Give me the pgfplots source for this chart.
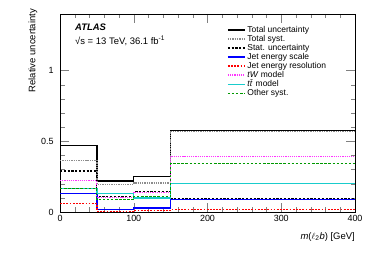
\documentclass[border=0pt]{standalone}
\usepackage{pgfplots}
\pgfplotsset{compat=1.18}
\usepackage{fontspec}
\setmainfont{Liberation Sans}
\definecolor{rootgreen}{rgb}{0,0.6,0}
\definecolor{rootcyan}{rgb}{0.1,0.8,0.8}
\definecolor{rootmag}{rgb}{1,0.2,1}
\definecolor{rootblue}{rgb}{0,0,1}
\definecolor{rootred}{rgb}{1,0,0}
\definecolor{rootgray}{rgb}{0.55,0.55,0.55}
\begin{document}
\begin{tikzpicture}
\begin{axis}[
  scale only axis,
  width=295bp, height=198bp,
  xmin=0, xmax=400, ymin=0, ymax=1.4,
  xtick={0,100,200,300,400},
  ytick={0,0.5,1},
  yticklabels={0,0.5,1},
  minor x tick num=4,
  minor y tick num=4,
  tick align=inside,
  major tick length=9bp,
  minor tick length=4.5bp,
  axis line style={line width=0.7pt},
  /pgf/number format/assume math mode=true,
  ticklabel style={font=\fontsize{9}{10}\selectfont},
  yticklabel style={xshift=-3pt},
  xlabel={\textit{m}($\ell$\textsubscript{2}\textit{b}) [GeV]},
  xlabel style={at={(axis description cs:1,-0.126)}, anchor=east, font=\fontsize{9.5}{11}\selectfont, inner sep=0pt},
  legend cell align=left,
  legend style={draw=none, fill=none, at={(axis description cs:0.566,0.95)}, anchor=north west,
     inner sep=0pt, font=\fontsize{8.5}{9}\selectfont, row sep=-2.6pt},
]
\addplot[const plot, color=black, line width=1.3pt] coordinates {(0,0.47) (50,0.22) (100,0.25) (150,0.578) (400,0.578)};
\addlegendentry{Total uncertainty}
\addplot[const plot, color=rootgray, densely dotted, line width=1.3pt] coordinates {(0,0.366) (50,0.195) (100,0.205) (150,0.571) (400,0.571)};
\addlegendentry{Total syst.}
\addplot[const plot, color=black, dash pattern=on 2.2pt off 1.6pt, line width=1.1pt] coordinates {(0,0.29) (50,0.108) (100,0.143) (150,0.096) (400,0.096)};
\addlegendentry{Stat. uncertainty}
\addplot[const plot, color=rootblue, line width=1.3pt] coordinates {(0,0.13) (50,0.02) (100,0.028) (150,0.09) (400,0.09)};
\addlegendentry{Jet energy scale}
\addplot[const plot, color=rootred, dash pattern=on 1.8pt off 1.4pt, line width=1.3pt] coordinates {(0,0.06) (50,0.006) (100,0.012) (150,0.019) (400,0.019)};
\addlegendentry{Jet energy resolution}
\addplot[const plot, color=rootmag, densely dotted, line width=1.2pt] coordinates {(0,0.22) (50,0.104) (100,0.14) (150,0.394) (400,0.394)};
\addlegendentry{\textit{tW} model\vphantom{gy}}
\addplot[const plot, color=rootcyan, line width=1.3pt] coordinates {(0,0.168) (50,0.13) (100,0.098) (150,0.202) (400,0.202)};
\addlegendentry{\textit{t\={t}} model\vphantom{gy}}
\addplot[const plot, color=rootgreen, dash pattern=on 2.5pt off 1.6pt, line width=1.1pt] coordinates {(0,0.163) (50,0.09) (100,0.108) (150,0.343) (400,0.343)};
\addlegendentry{Other syst.}
\end{axis}
\node[rotate=90, anchor=east, inner sep=0pt, font=\fontsize{9.5}{11}\selectfont] at ([shift={(-27bp,5bp)}]current axis.north west) {Relative uncertainty};
\node[anchor=west, inner sep=0pt, font=\fontsize{9.5}{11}\selectfont\bfseries\itshape] at ([shift={(15bp,-13bp)}]current axis.north west) {ATLAS};
\node[anchor=west, inner sep=0pt, font=\fontsize{9.5}{11}\selectfont] at ([shift={(15bp,-27bp)}]current axis.north west) {√s = 13 TeV, 36.1 fb\textsuperscript{-1}};
\path[use as bounding box] ([shift={(-60bp,-41bp)}]current axis.south west) rectangle ([shift={(19bp,14bp)}]current axis.north east);
\end{tikzpicture}
\end{document}
